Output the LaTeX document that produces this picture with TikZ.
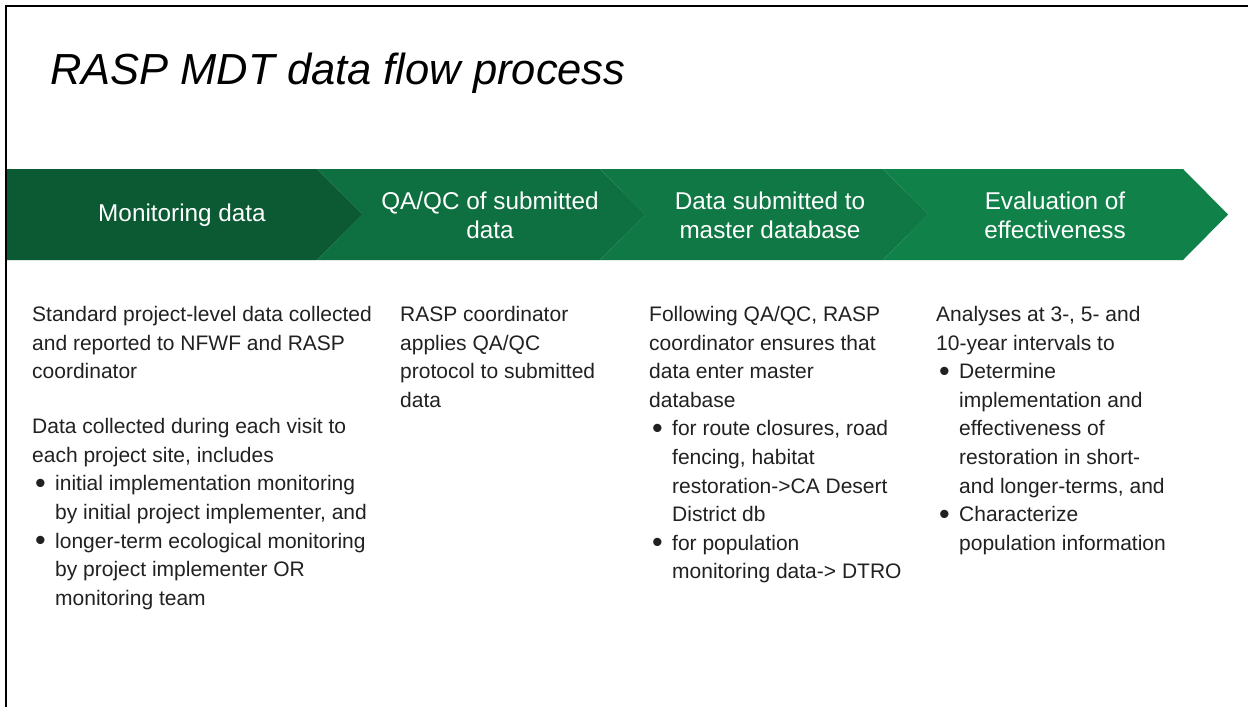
\documentclass[tikz,border=0pt]{standalone}
\usepackage{fontspec}
\setmainfont{Liberation Sans}
\definecolor{gA}{RGB}{11,90,52}
\definecolor{gB}{RGB}{14,111,64}
\definecolor{gC}{RGB}{15,120,68}
\definecolor{gD}{RGB}{16,130,73}
\definecolor{txt}{RGB}{33,33,33}
\tikzset{
  chev/.style={draw=none},
  head/.style={text=white, font=\fontsize{24.3}{29}\selectfont, align=center, inner sep=0},
  body/.style={text=txt, font=\fontsize{21}{28.6}\selectfont, align=left, anchor=north west, inner sep=0},
}
\newcommand{\bul}{\hspace*{3pt}\makebox[20pt][l]{\raisebox{-2.6pt}{\scalebox{1.45}{\textbullet}}}}
\newcommand{\ind}{\hspace*{23pt}}
\begin{document}
\begin{tikzpicture}[x=1pt,y=-1pt]
\useasboundingbox (0,0) rectangle (1248,707);
\fill[white] (0,0) rectangle (1248,707);
% frame
\draw[line width=2.2pt] (6,707) -- (6,6) -- (1248,6);
% title
\node[anchor=base west, inner sep=0, font=\fontsize{43.5}{50}\selectfont\itshape, text=black] (title) at (50,84) {RASP MDT data flow process};
% chevrons
\fill[gD] (883,169) -- (1183,169) -- (1228,214.5) -- (1183,260) -- (883,260) -- (928,214.5) -- cycle;
\fill[gC] (600,169) -- (883,169) -- (928,214.5) -- (883,260) -- (600,260) -- (645,214.5) -- cycle;
\fill[gB] (317,169) -- (600,169) -- (645,214.5) -- (600,260) -- (317,260) -- (362,214.5) -- cycle;
\fill[gA] (7,169) -- (317,169) -- (362,214.5) -- (317,260) -- (7,260) -- cycle;
% headers
\node[head] (h1) at (182,215) {Monitoring data};
\node[head] (h2) at (490,215) {QA/QC of submitted\\data};
\node[head] (h3) at (770,215) {Data submitted to\\master database};
\node[head] (h4) at (1055,215) {Evaluation of\\effectiveness};
% bodies
\node[body] (b1) at (32,306) {Standard project-level data collected\\
and reported to NFWF and RASP\\
coordinator\\[26.5pt]
Data collected during each visit to\\
each project site, includes\\
\bul initial implementation monitoring\\
\ind by initial project implementer, and\\
\bul longer-term ecological monitoring\\
\ind by project implementer OR\\
\ind monitoring team};
\node[body] (b2) at (400,306) {RASP coordinator\\
applies QA/QC\\
protocol to submitted\\
data};
\node[body] (b3) at (649,306) {Following QA/QC, RASP\\
coordinator ensures that\\
data enter master\\
database\\
\bul for route closures, road\\
\ind fencing, habitat\\
\ind restoration->CA Desert\\
\ind District db\\
\bul for population\\
\ind monitoring data-> DTRO};
\node[body] (b4) at (936,306) {Analyses at 3-, 5- and\\
10-year intervals to\\
\bul Determine\\
\ind implementation and\\
\ind effectiveness of\\
\ind restoration in short-\\
\ind and longer-terms, and\\
\bul Characterize\\
\ind population information};
\end{tikzpicture}
\end{document}
